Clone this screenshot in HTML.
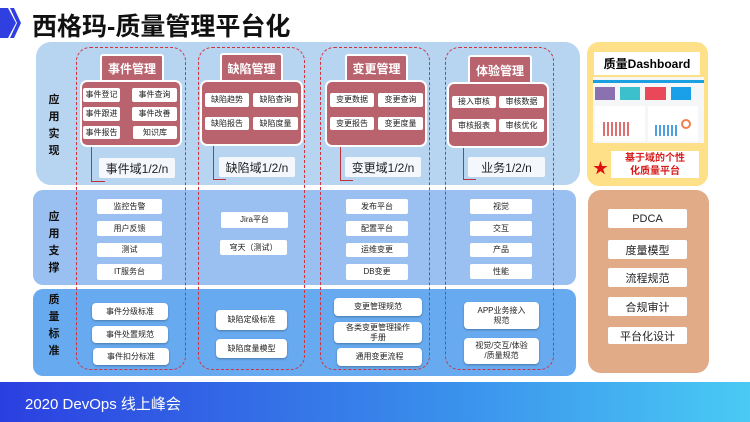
<!DOCTYPE html>
<html><head><meta charset="utf-8">
<style>
*{margin:0;padding:0;box-sizing:border-box}
body{width:750px;height:422px;position:relative;background:#fff;font-family:"Liberation Sans","Noto Sans CJK SC",sans-serif;overflow:hidden}
.a{position:absolute}
.w{position:absolute;background:#fff;color:#222;font-size:8px;display:flex;align-items:center;justify-content:center;text-align:center;line-height:1.25;border-radius:2px}
.s{box-shadow:0 1px 2px rgba(0,0,0,.3);border-radius:4px}
.hd{position:absolute;background:#b9636e;color:#fff;font-weight:bold;font-size:12px;display:flex;align-items:center;justify-content:center;border:2px solid #fff;border-bottom:none;border-radius:3px 3px 0 0}
.in{position:absolute;background:#b9636e;border:2px solid #fff;border-radius:7px}
.dash{position:absolute;border:1px dashed #d0323c;border-radius:14px}
.dom{position:absolute;background:#f4f8fd;font-size:12px;color:#222;display:flex;align-items:center;justify-content:center;border-radius:2px}
.L{position:absolute;border-left:1.5px solid #c0303a;border-bottom:1.5px solid #c0303a}
.lab{position:absolute;width:16px;font-size:11px;font-weight:bold;color:#111;line-height:17px;text-align:center}
.o{position:absolute;background:#fff;font-size:11px;color:#222;display:flex;align-items:center;justify-content:center;border-radius:2px}
</style></head><body>
<svg class="a" style="left:0;top:8px" width="22" height="32"><polygon points="0,0 8,0 16,15 8,30 0,30" fill="#2f3fe0"/><polygon points="10,0 14,0 21,15 14,30 10,30 17,15" fill="#2f3fe0"/></svg>
<div class="a" style="left:32px;top:7px;font-size:25px;font-weight:bold;color:#111">西格玛-质量管理平台化</div>

<div class="a" style="left:36px;top:42px;width:544px;height:143px;background:#b7d4f0;border-radius:15px"></div>
<div class="a" style="left:33px;top:190px;width:543px;height:95px;background:#9ac0f2;border-radius:10px"></div>
<div class="a" style="left:33px;top:289px;width:543px;height:87px;background:#68aaf0;border-radius:10px"></div>
<div class="a" style="left:0;top:382px;width:750px;height:40px;background:linear-gradient(90deg,#2b3fe0,#3a90ec 60%,#4acaf4)"></div>
<div class="a" style="left:25px;top:393px;font-size:15px;color:#fff">2020 DevOps 线上峰会</div>

<div class="lab" style="left:46px;top:92px">应<br>用<br>实<br>现</div>
<div class="lab" style="left:46px;top:209px">应<br>用<br>支<br>撑</div>
<div class="lab" style="left:46px;top:292px">质<br>量<br>标<br>准</div>

<div class="dash" style="left:76px;top:47px;width:110px;height:323px"></div>
<div class="dash" style="left:198px;top:47px;width:107px;height:323px"></div>
<div class="dash" style="left:320px;top:47px;width:110px;height:323px"></div>
<div class="dash" style="left:445px;top:47px;width:109px;height:323px"></div>

<div class="hd" style="left:100px;top:54px;width:64px;height:27px">事件管理</div>
<div class="in" style="left:80px;top:80px;width:102px;height:67px"></div>
<div class="w" style="left:83px;top:88px;width:37px;height:14px">事件登记</div>
<div class="w" style="left:132px;top:88px;width:45px;height:14px">事件查询</div>
<div class="w" style="left:83px;top:107px;width:37px;height:14px">事件跟进</div>
<div class="w" style="left:132px;top:107px;width:45px;height:14px">事件改善</div>
<div class="w" style="left:83px;top:126px;width:37px;height:13px">事件报告</div>
<div class="w" style="left:133px;top:126px;width:44px;height:13px">知识库</div>
<div class="L" style="left:91px;top:147px;width:14px;height:35px"></div>
<div class="dom" style="left:99px;top:158px;width:76px;height:20px">事件域1/2/n</div>

<div class="hd" style="left:220px;top:53px;width:63px;height:28px">缺陷管理</div>
<div class="in" style="left:200px;top:80px;width:103px;height:66px"></div>
<div class="w" style="left:205px;top:93px;width:44px;height:14px">缺陷趋势</div>
<div class="w" style="left:253px;top:93px;width:45px;height:14px">缺陷查询</div>
<div class="w" style="left:205px;top:117px;width:44px;height:13px">缺陷报告</div>
<div class="w" style="left:253px;top:117px;width:45px;height:13px">缺陷度量</div>
<div class="L" style="left:213px;top:146px;width:13px;height:34px"></div>
<div class="dom" style="left:219px;top:157px;width:76px;height:20px">缺陷域1/2/n</div>

<div class="hd" style="left:345px;top:54px;width:63px;height:27px">变更管理</div>
<div class="in" style="left:325px;top:80px;width:102px;height:67px"></div>
<div class="w" style="left:330px;top:93px;width:44px;height:14px">变更数据</div>
<div class="w" style="left:378px;top:93px;width:45px;height:14px">变更查询</div>
<div class="w" style="left:330px;top:117px;width:44px;height:13px">变更报告</div>
<div class="w" style="left:378px;top:117px;width:45px;height:13px">变更度量</div>
<div class="L" style="left:340px;top:147px;width:13px;height:34px"></div>
<div class="dom" style="left:345px;top:157px;width:76px;height:20px">变更域1/2/n</div>

<div class="hd" style="left:468px;top:55px;width:64px;height:28px">体验管理</div>
<div class="in" style="left:447px;top:82px;width:102px;height:66px"></div>
<div class="w" style="left:452px;top:96px;width:44px;height:12px">接入审核</div>
<div class="w" style="left:499px;top:96px;width:45px;height:12px">审核数据</div>
<div class="w" style="left:452px;top:119px;width:44px;height:13px">审核报表</div>
<div class="w" style="left:499px;top:119px;width:45px;height:13px">审核优化</div>
<div class="L" style="left:463px;top:148px;width:13px;height:32px"></div>
<div class="dom" style="left:468px;top:157px;width:77px;height:20px">业务1/2/n</div>

<div class="a" style="left:587px;top:42px;width:121px;height:144px;background:#fde088;border-radius:12px"></div>
<div class="a" style="left:594px;top:52px;width:106px;height:23px;background:#fff;font-size:12px;font-weight:bold;display:flex;align-items:center;justify-content:center">质量Dashboard</div>
<div class="a" style="left:593px;top:77px;width:111px;height:66px;background:#f5f6f8">
 <div class="a" style="left:0;top:3px;width:111px;height:3px;background:#1aa0e0"></div>
 <div class="a" style="left:2px;top:10px;width:20px;height:13px;background:#8a72b0"></div>
 <div class="a" style="left:27px;top:10px;width:20px;height:13px;background:#3cc0cc"></div>
 <div class="a" style="left:52px;top:10px;width:21px;height:13px;background:#e84858"></div>
 <div class="a" style="left:78px;top:10px;width:20px;height:13px;background:#1aa0e8"></div>
 <div class="a" style="left:2px;top:29px;width:50px;height:35px;background:#fff"></div>
 <div class="a" style="left:55px;top:29px;width:50px;height:35px;background:#fff"></div>
 <div class="a" style="left:10px;top:45px;width:28px;height:14px;background:repeating-linear-gradient(90deg,#e07070 0 2px,transparent 2px 4px)"></div>
 <div class="a" style="left:62px;top:48px;width:22px;height:11px;background:repeating-linear-gradient(90deg,#4aa0e0 0 2px,transparent 2px 4px)"></div>
 <div class="a" style="left:88px;top:42px;width:10px;height:10px;border:2px solid #f08050;border-radius:50%"></div>
</div>
<div class="a" style="left:611px;top:151px;width:88px;height:27px;background:#fff;color:#d81c1c;font-size:10px;font-weight:bold;line-height:13px;text-align:center;padding-top:1px">基于域的个性<br>化质量平台</div>
<div class="a" style="left:593px;top:157px;color:#e01010;font-size:15px">★</div>

<div class="a" style="left:588px;top:190px;width:121px;height:183px;background:#e1ab88;border-radius:13px"></div>
<div class="o" style="left:608px;top:209px;width:79px;height:19px">PDCA</div>
<div class="o" style="left:608px;top:240px;width:79px;height:19px">度量模型</div>
<div class="o" style="left:608px;top:268px;width:79px;height:19px">流程规范</div>
<div class="o" style="left:608px;top:297px;width:79px;height:19px">合规审计</div>
<div class="o" style="left:608px;top:327px;width:79px;height:17px">平台化设计</div>

<div class="w" style="left:97px;top:199px;width:65px;height:15px">监控告警</div>
<div class="w" style="left:97px;top:221px;width:65px;height:15px">用户反馈</div>
<div class="w" style="left:97px;top:243px;width:65px;height:14px">测试</div>
<div class="w" style="left:97px;top:264px;width:65px;height:16px">IT服务台</div>
<div class="w" style="left:221px;top:212px;width:67px;height:16px">Jira平台</div>
<div class="w" style="left:220px;top:240px;width:67px;height:15px">穹天（测试）</div>
<div class="w" style="left:346px;top:199px;width:62px;height:15px">发布平台</div>
<div class="w" style="left:346px;top:221px;width:62px;height:15px">配置平台</div>
<div class="w" style="left:346px;top:243px;width:62px;height:14px">运维变更</div>
<div class="w" style="left:346px;top:264px;width:62px;height:16px">DB变更</div>
<div class="w" style="left:470px;top:199px;width:62px;height:15px">视觉</div>
<div class="w" style="left:470px;top:221px;width:62px;height:15px">交互</div>
<div class="w" style="left:470px;top:243px;width:62px;height:14px">产品</div>
<div class="w" style="left:470px;top:264px;width:62px;height:15px">性能</div>

<div class="w s" style="left:92px;top:303px;width:76px;height:17px">事件分级标准</div>
<div class="w s" style="left:92px;top:326px;width:76px;height:17px">事件处置规范</div>
<div class="w s" style="left:93px;top:348px;width:76px;height:17px">事件扣分标准</div>
<div class="w s" style="left:216px;top:310px;width:71px;height:20px">缺陷定级标准</div>
<div class="w s" style="left:216px;top:339px;width:71px;height:19px">缺陷度量模型</div>
<div class="w s" style="left:334px;top:298px;width:88px;height:18px">变更管理规范</div>
<div class="w s" style="left:334px;top:322px;width:88px;height:21px">各类变更管理操作<br>手册</div>
<div class="w s" style="left:337px;top:348px;width:85px;height:18px">通用变更流程</div>
<div class="w s" style="left:464px;top:302px;width:75px;height:27px">APP业务接入<br>规范</div>
<div class="w s" style="left:464px;top:338px;width:75px;height:26px">视觉/交互/体验<br>/质量规范</div>
</body></html>
